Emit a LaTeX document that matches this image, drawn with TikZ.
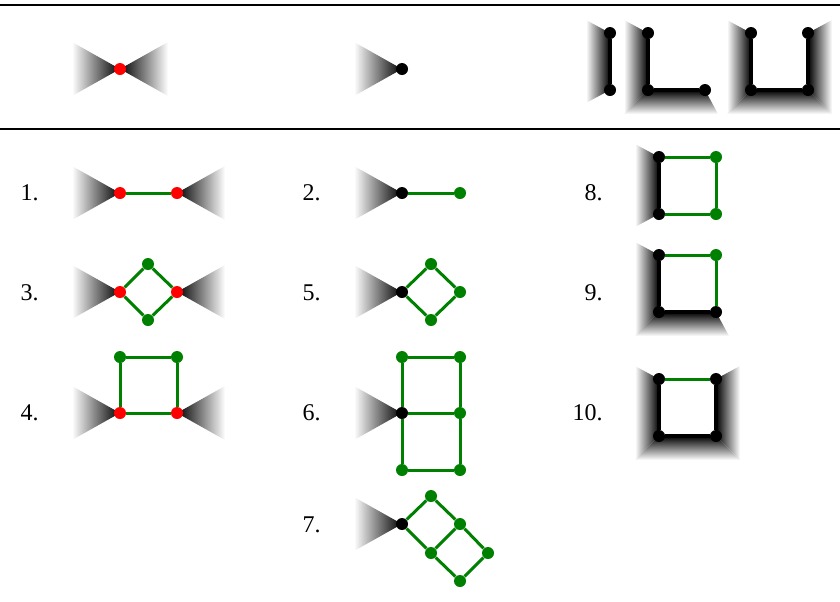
\documentclass[tikz,border=0pt]{standalone}
\usepackage{fontspec}
\setmainfont{Liberation Serif}
\newcommand\wedgeL[2]{\shade[shl] (#1,#2) -- ++(-48,-27) -- ++(0,54) -- cycle;}
\newcommand\wedgeR[2]{\shade[shr] (#1,#2) -- ++(48,-27) -- ++(0,54) -- cycle;}
\begin{document}
\begin{tikzpicture}[x=0.5pt,y=-0.5pt,
 vtx/.style={circle,inner sep=0pt,minimum size=6pt},
 rv/.style={vtx,fill=red},
 gv/.style={vtx,fill=green!50!black},
 bv/.style={vtx,fill=black},
 ge/.style={draw=green!50!black,line width=1.5pt},
 be/.style={draw=black,line width=2.2pt},
 lab/.style={anchor=east,inner sep=0pt,font=\fontsize{12}{14}\selectfont},
 shl/.style={left color=white,right color=black},
 shr/.style={left color=black,right color=white},
 shb/.style={top color=black,bottom color=white}]
\useasboundingbox (0,0) rectangle (840,601);
% rules
\draw[line width=0.95pt] (0,5) -- (840,5);
\draw[line width=0.6pt] (0,129) -- (840,129);

% ---------- top row ----------
\wedgeL{120}{69}\wedgeR{120}{69}
\node[rv] (t1) at (120,69) {};
\wedgeL{402}{69}
\node[bv] (t2) at (402,69) {};
% shape A
\shade[shl] (610,33) -- (586,20) -- (586,103) -- (610,90) -- cycle;
% shape B
\shade[shl] (648,33) -- (624,20) -- (624,114) -- (648,90) -- cycle;
\shade[shb] (648,90) -- (624,114) -- (718,114) -- (705,90) -- cycle;
% shape C
\shade[shl] (751,33) -- (727,20) -- (727,114) -- (751,90) -- cycle;
\shade[shb] (751,90) -- (727,114) -- (832,114) -- (808,90) -- cycle;
\shade[shr] (808,33) -- (832,20) -- (832,114) -- (808,90) -- cycle;
\node[bv] (a1) at (610,33) {};
\node[bv] (a2) at (610,90) {};
\node[bv] (b1) at (648,33) {};
\node[bv] (b2) at (648,90) {};
\node[bv] (b3) at (705,90) {};
\node[bv] (c1) at (751,33) {};
\node[bv] (c2) at (751,90) {};
\node[bv] (c3) at (808,90) {};
\node[bv] (c4) at (808,33) {};
\draw[be] (a1) -- (a2);
\draw[be] (b1) -- (b2) -- (b3);
\draw[be] (c1) -- (c2) -- (c3) -- (c4);

% ---------- item 1 ----------
\node[lab] (l1) at (39,193) {1.};
\wedgeL{120}{193}\wedgeR{177}{193}
\node[rv] (p1a) at (120,193) {};
\node[rv] (p1b) at (177,193) {};
\draw[ge] (p1a) -- (p1b);

% ---------- item 2 ----------
\node[lab] (l2) at (321,193) {2.};
\wedgeL{402}{193}
\node[bv] (p2a) at (402,193) {};
\node[gv] (p2b) at (460,193) {};
\draw[ge] (p2a) -- (p2b);

% ---------- item 8 ----------
\node[lab] (l8) at (603,193) {8.};
\shade[shl] (659,157) -- (635,144) -- (635,227) -- (659,214) -- cycle;
\node[bv] (p8a) at (659,157) {};
\node[bv] (p8b) at (659,214) {};
\node[gv] (p8c) at (716,214) {};
\node[gv] (p8d) at (716,157) {};
\draw[be] (p8a) -- (p8b);
\draw[ge] (p8b) -- (p8c) -- (p8d) -- (p8a);

% ---------- item 3 ----------
\node[lab] (l3) at (39,293) {3.};
\wedgeL{120}{292}\wedgeR{177}{292}
\node[rv] (p3a) at (120,292) {};
\node[gv] (p3b) at (148,264) {};
\node[rv] (p3c) at (177,292) {};
\node[gv] (p3d) at (148,320) {};
\draw[ge] (p3a) -- (p3b) -- (p3c) -- (p3d) -- (p3a);

% ---------- item 5 ----------
\node[lab] (l5) at (321,293) {5.};
\wedgeL{402}{292}
\node[bv] (p5a) at (402,292) {};
\node[gv] (p5b) at (431,264) {};
\node[gv] (p5c) at (460,292) {};
\node[gv] (p5d) at (431,320) {};
\draw[ge] (p5a) -- (p5b) -- (p5c) -- (p5d) -- (p5a);

% ---------- item 9 ----------
\node[lab] (l9) at (603,293) {9.};
\shade[shl] (659,255) -- (635,242) -- (635,336) -- (659,312) -- cycle;
\shade[shb] (659,312) -- (635,336) -- (729,336) -- (716,312) -- cycle;
\node[bv] (p9a) at (659,255) {};
\node[bv] (p9b) at (659,312) {};
\node[bv] (p9c) at (716,312) {};
\node[gv] (p9d) at (716,255) {};
\draw[be] (p9a) -- (p9b) -- (p9c);
\draw[ge] (p9c) -- (p9d) -- (p9a);

% ---------- item 4 ----------
\node[lab] (l4) at (39,413) {4.};
\wedgeL{120}{413}\wedgeR{177}{413}
\node[rv] (p4a) at (120,413) {};
\node[rv] (p4b) at (177,413) {};
\node[gv] (p4c) at (177,357) {};
\node[gv] (p4d) at (120,357) {};
\draw[ge] (p4a) -- (p4b) -- (p4c) -- (p4d) -- (p4a);

% ---------- item 6 ----------
\node[lab] (l6) at (321,413) {6.};
\wedgeL{402}{413}
\node[bv] (p6a) at (402,413) {};
\node[gv] (p6b) at (402,357) {};
\node[gv] (p6c) at (460,357) {};
\node[gv] (p6d) at (460,413) {};
\node[gv] (p6e) at (402,470) {};
\node[gv] (p6f) at (460,470) {};
\draw[ge] (p6a) -- (p6b) -- (p6c) -- (p6d) -- (p6a);
\draw[ge] (p6a) -- (p6e) -- (p6f) -- (p6d);

% ---------- item 10 ----------
\node[lab] (l10) at (603,413) {10.};
\shade[shl] (659,379) -- (635,366) -- (635,460) -- (659,436) -- cycle;
\shade[shb] (659,436) -- (635,460) -- (740,460) -- (716,436) -- cycle;
\shade[shr] (716,379) -- (740,366) -- (740,460) -- (716,436) -- cycle;
\node[bv] (p10a) at (659,379) {};
\node[bv] (p10b) at (659,436) {};
\node[bv] (p10c) at (716,436) {};
\node[bv] (p10d) at (716,379) {};
\draw[be] (p10a) -- (p10b) -- (p10c) -- (p10d);
\draw[ge] (p10d) -- (p10a);

% ---------- item 7 ----------
\node[lab] (l7) at (321,525) {7.};
\wedgeL{402}{524}
\node[bv] (p7a) at (402,524) {};
\node[gv] (p7b) at (431,496) {};
\node[gv] (p7c) at (460,524) {};
\node[gv] (p7d) at (431,553) {};
\node[gv] (p7e) at (488,553) {};
\node[gv] (p7f) at (460,581) {};
\draw[ge] (p7a) -- (p7b) -- (p7c) -- (p7d) -- (p7a);
\draw[ge] (p7c) -- (p7e) -- (p7f) -- (p7d);
\end{tikzpicture}
\end{document}
